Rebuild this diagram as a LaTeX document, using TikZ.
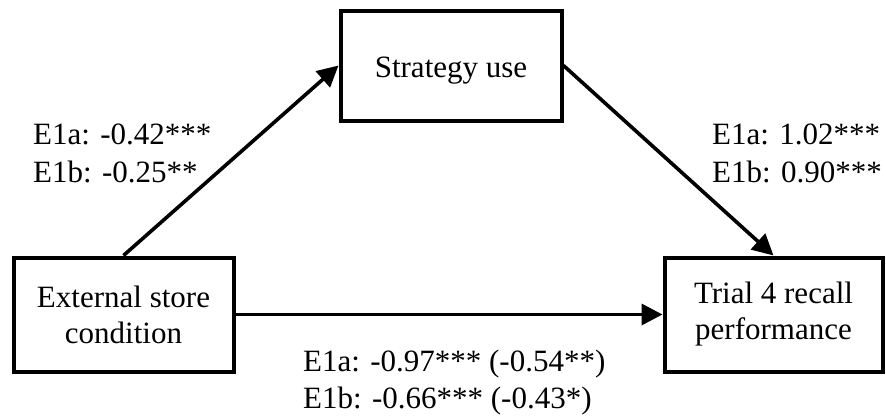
\documentclass[tikz,border=0pt]{standalone}
\usepackage{fontspec}
\setmainfont{Liberation Serif}
\usetikzlibrary{arrows.meta}
\begin{document}
\begin{tikzpicture}[x=1pt,y=-1pt,
  box/.style={draw=black,line width=4pt,rectangle,inner sep=0pt,align=center,
    font=\fontsize{31}{36}\selectfont},
  conn/.style={line width=3.6pt,-{Triangle[length=21pt,width=21pt]}},
  lab/.style={anchor=base west,inner sep=0pt,font=\fontsize{31}{36}\selectfont}]
\useasboundingbox (0,0) rectangle (886,415);
\node[box,minimum width=220pt,minimum height=114pt] (ext) at (123.5,314.5) {External store\\condition};
\node[box,minimum width=221pt,minimum height=110pt,text height=24pt,text depth=0.4pt] (strat) at (451,65.5) {Strategy use};
\node[box,minimum width=218pt,minimum height=114pt] (trial) at (773.5,314.5) {Trial 4 recall\\performance};
\draw[conn] (ext.north) -- (strat.west);
\draw[conn] (strat.east) -- (trial.north);
\draw[conn] (ext.east) -- (trial.west);
\node[lab] (a1) at (33,144) {E1a: -0.42***};
\node[lab] (a2) at (33,182) {E1b: -0.25**};
\node[lab] (b1) at (712,144) {E1a: 1.02***};
\node[lab] (b2) at (712,182) {E1b: 0.90***};
\node[lab] (c1) at (303,371) {E1a: -0.97*** (-0.54**)};
\node[lab] (c2) at (303,408) {E1b: -0.66*** (-0.43*)};
\end{tikzpicture}
\end{document}
